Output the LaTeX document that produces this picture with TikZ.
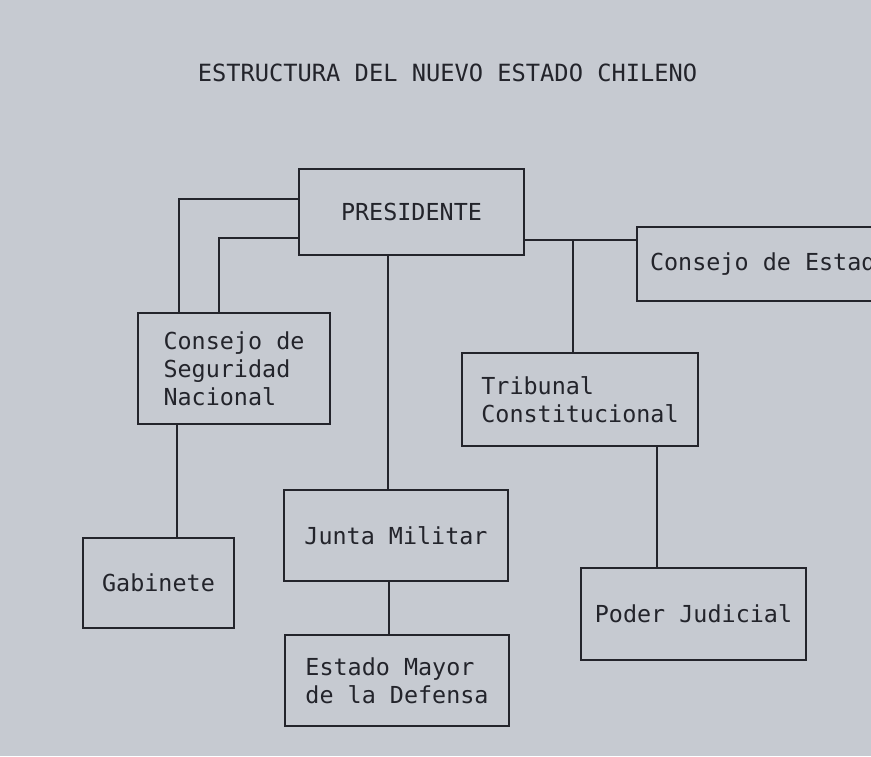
\documentclass[tikz,border=0pt]{standalone}
\usepackage{fontspec}
\newfontfamily\tw{DejaVu Sans Mono}
\definecolor{paper}{HTML}{C6CAD1}
\definecolor{ink}{HTML}{23242B}
\begin{document}
\begin{tikzpicture}[x=1pt,y=-1pt,
  box/.style={draw=ink,line width=2.9pt,rectangle,inner sep=0pt,align=left,
    text=ink,font=\tw\fontsize{23.4pt}{28pt}\selectfont},
  conn/.style={draw=ink,line width=2.9pt}]
\fill[paper] (0,0) rectangle (871,756);
\useasboundingbox (0,0) rectangle (871,756);
\clip (0,0) rectangle (871,756);
\node[text=ink,font=\tw\fontsize{23.7pt}{28pt}\selectfont] (title) at (447.5,73) {ESTRUCTURA DEL NUEVO ESTADO CHILENO};
\node[box,minimum width=225pt,minimum height=86pt] (pres) at (411.5,212) {PRESIDENTE};
\node[box,minimum width=265.6pt,minimum height=74pt] (ced) at (769.8,264) {Consejo de Estado};
\node[box,minimum width=192pt,minimum height=111pt] (csn) at (234,368.5) {Consejo de\\Seguridad\\Nacional};
\node[box,minimum width=236pt,minimum height=93pt] (trib) at (580,399.5) {Tribunal\\Constitucional};
\node[box,minimum width=224pt,minimum height=91pt] (junta) at (396,535.5) {Junta Militar};
\node[box,minimum width=224pt,minimum height=91pt] (emd) at (397,680.5) {Estado Mayor\\de la Defensa};
\node[box,minimum width=151pt,minimum height=90pt] (gab) at (158.5,583) {Gabinete};
\node[box,minimum width=225pt,minimum height=92pt] (pj) at (693.5,614) {Poder Judicial};
% connectors
\draw[conn] ([yshift=13pt]pres.west) -| ([xshift=-55pt]csn.north);
\draw[conn] ([yshift=-26pt]pres.west) -| ([xshift=-15pt]csn.north);
\coordinate (ps) at ([xshift=-23.5pt]pres.south);
\draw[conn] (ps) -- (ps |- junta.north);
\draw[conn] ([yshift=-28pt]pres.east) -- ([yshift=24pt]ced.west);
\coordinate (pe) at ([yshift=-28pt]pres.east);
\coordinate (tn) at ([xshift=-7pt]trib.north);
\draw[conn] (tn) -- (tn |- pe);
\coordinate (cs) at ([xshift=-57pt]csn.south);
\draw[conn] (cs) -- (cs |- gab.north);
\coordinate (js) at ([xshift=-7pt]junta.south);
\draw[conn] (js) -- (js |- emd.north);
\coordinate (ts) at ([xshift=77pt]trib.south);
\draw[conn] (ts) -- (ts |- pj.north);
\end{tikzpicture}
\end{document}
